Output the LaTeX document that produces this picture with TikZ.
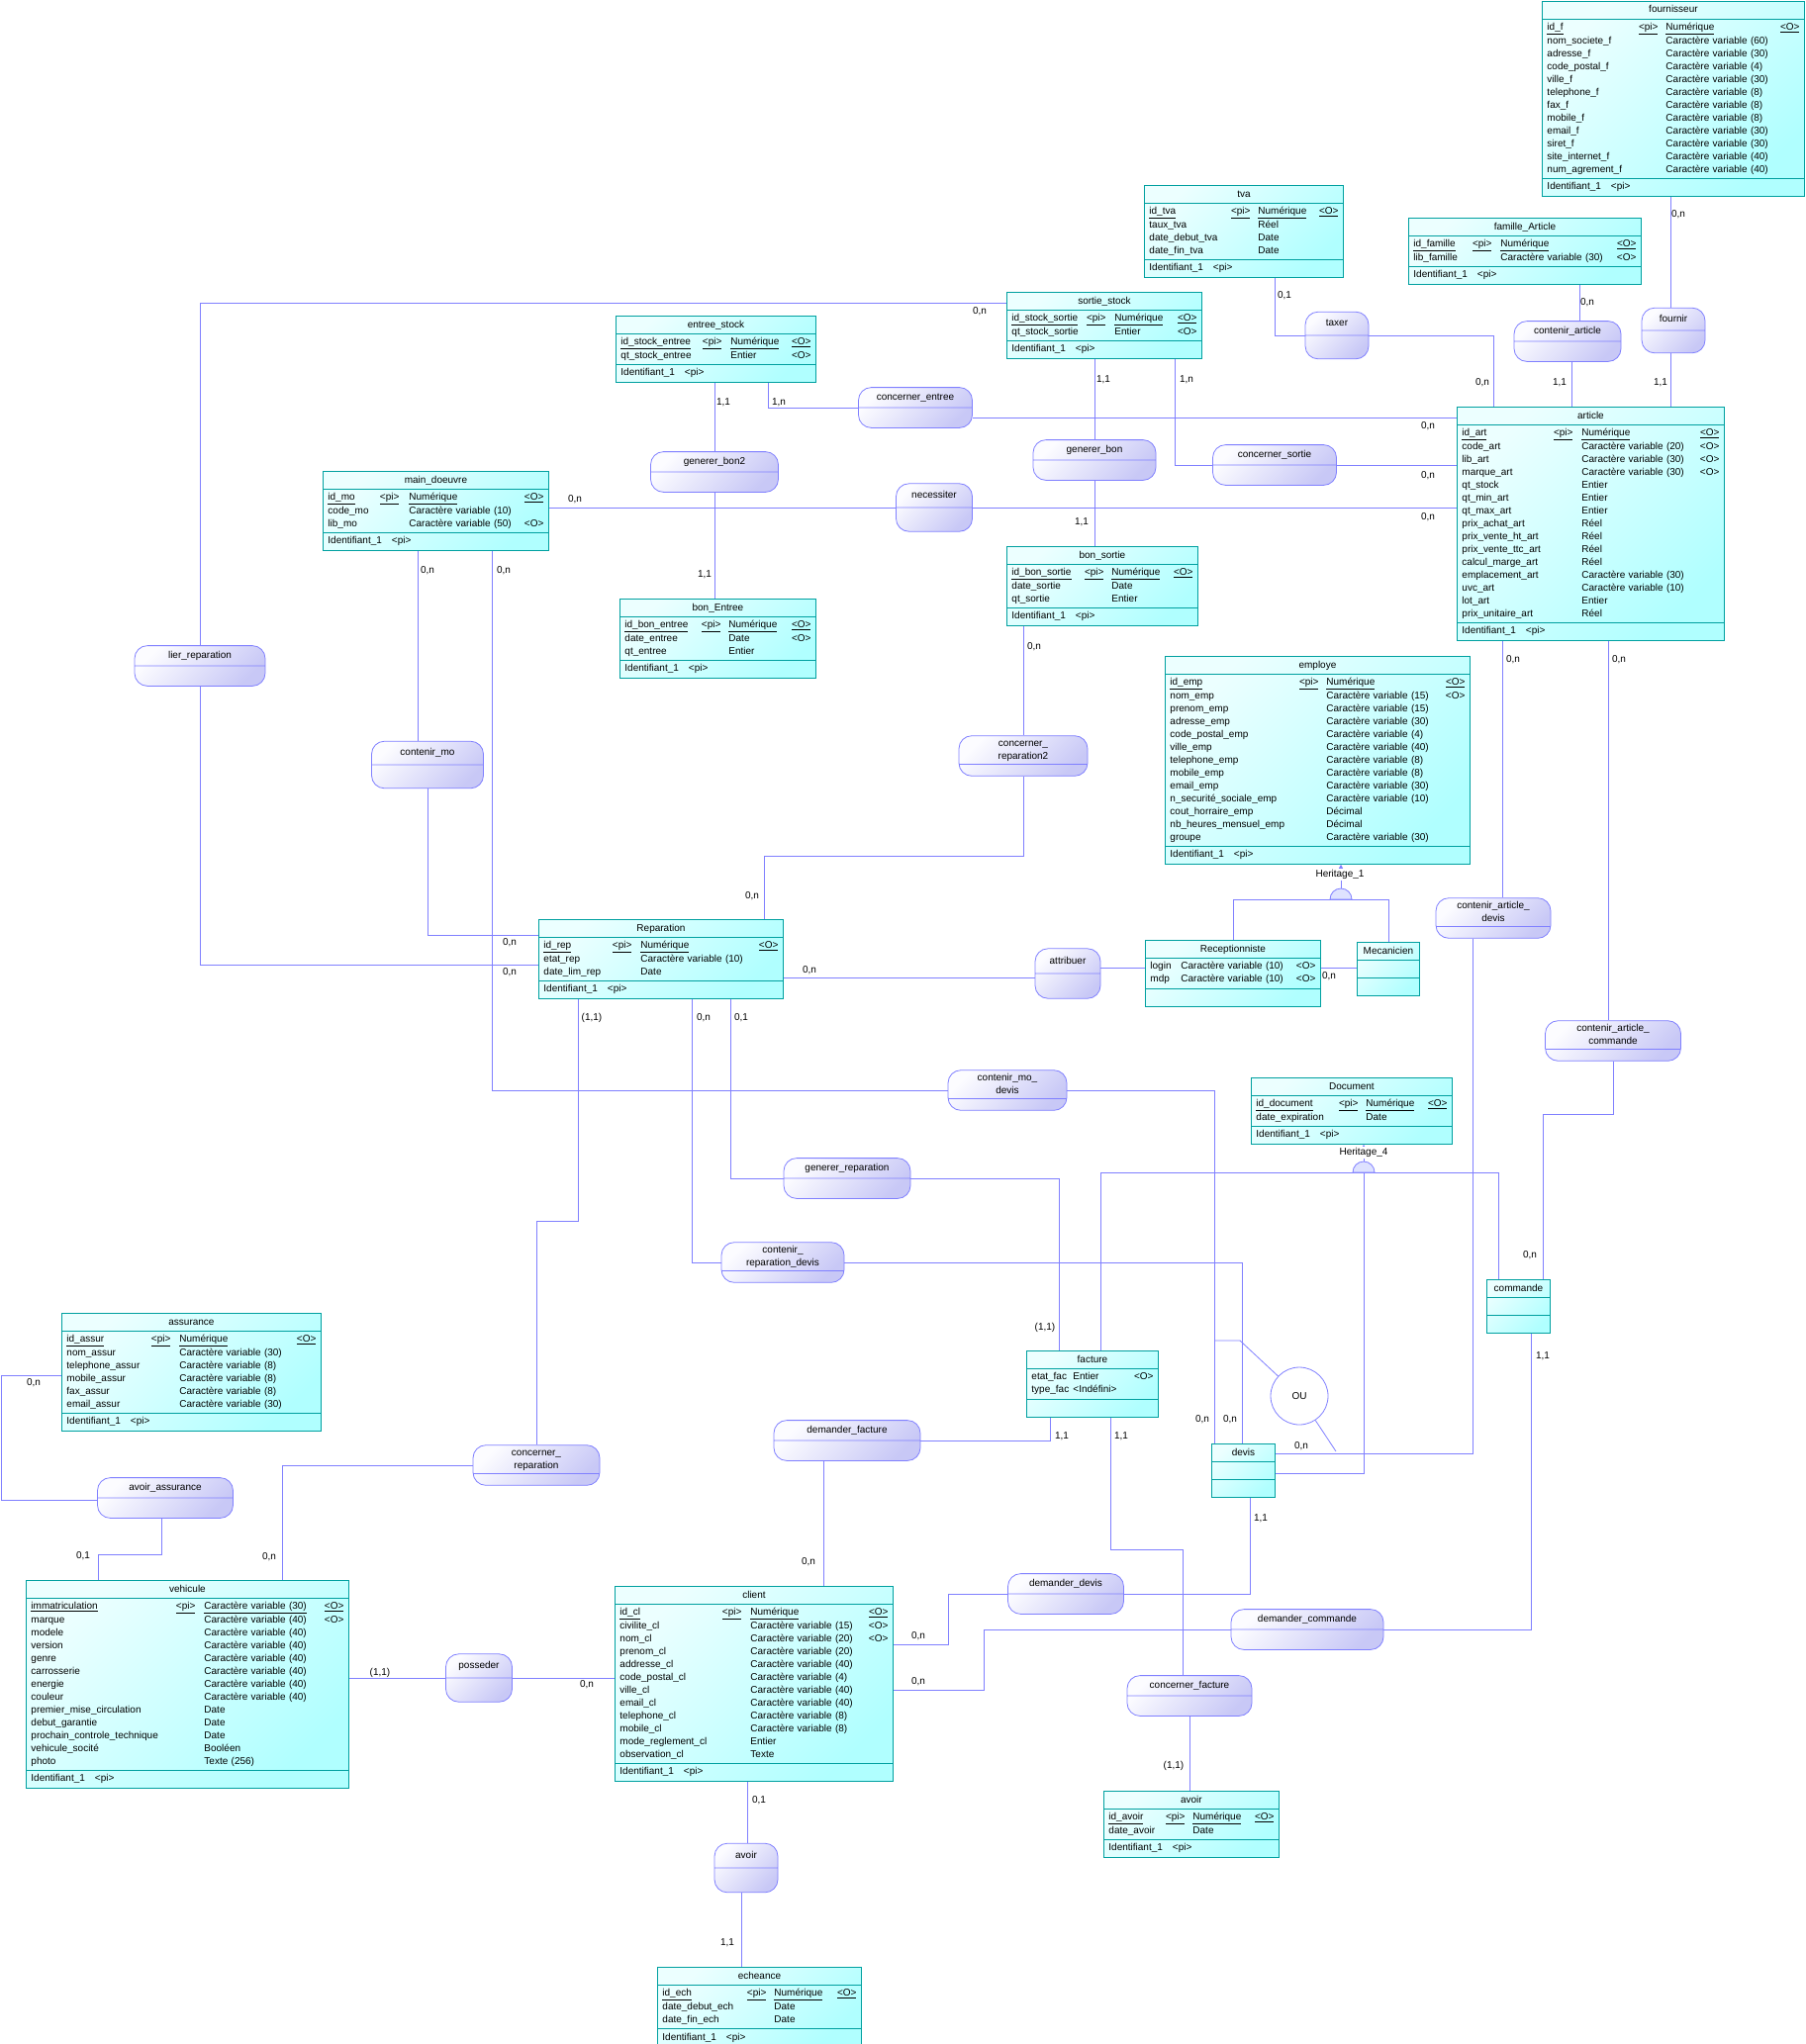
\documentclass[tikz,border=0pt]{standalone}
\usepackage{fontspec}
\setmainfont{Liberation Sans}
\usetikzlibrary{shapes.multipart,arrows.meta}
\definecolor{entline}{RGB}{0,160,160}
\definecolor{entlight}{RGB}{236,255,255}
\definecolor{entdark}{RGB}{176,255,255}
\definecolor{lnk}{RGB}{128,128,255}
\definecolor{asslight}{RGB}{252,252,255}
\definecolor{assdark}{RGB}{200,200,246}
\definecolor{domefill}{RGB}{222,226,255}
\newcommand{\erfont}{\fontsize{10}{13}\selectfont}
\newcommand{\cv}[1]{Caractère variable (#1)}
\newcommand{\pkrow}[2]{\underline{#1}\hfill\underline{<pi>} & \underline{#2}\hfill\underline{<O>}}
\newcommand{\ident}{\strut Identifiant\_1\quad<pi>\hfill\null}
\newenvironment{attrs}[3]{\begin{tabular}{@{}p{#1pt}@{\hspace{#2pt}}p{#3pt}@{}}}{\end{tabular}}

\begin{document}
\begin{tikzpicture}[x=1pt,y=-1pt,
  ent/.style={rectangle split, rectangle split parts=3, draw=entline, line width=0.9pt,
    top color=entlight, bottom color=entdark, shading angle=45, anchor=north west,
    inner xsep=5pt, inner ysep=2pt, align=center, font=\erfont},
  asso/.style={rectangle split, rectangle split parts=2, draw=lnk, line width=0.8pt,
    rounded corners=13pt, top color=asslight, bottom color=assdark, shading angle=45,
    inner ysep=3.3pt, align=center, font=\erfont},
  link/.style={draw=lnk, line width=0.8pt},
  card/.style={font=\erfont, inner sep=1pt}]
\path[use as bounding box, fill=white] (0,0) rectangle (1824,2066);

% entities
\node[ent, text width=255pt] (fou) at (1558,1) {\strut fournisseur
  \nodepart{two}\begin{attrs}{112}{8}{135}
    \pkrow{id\_f}{Numérique}\\
    nom\_societe\_f & \cv{60}\\
    adresse\_f & \cv{30}\\
    code\_postal\_f & \cv{4}\\
    ville\_f & \cv{30}\\
    telephone\_f & \cv{8}\\
    fax\_f & \cv{8}\\
    mobile\_f & \cv{8}\\
    email\_f & \cv{30}\\
    siret\_f & \cv{30}\\
    site\_internet\_f & \cv{40}\\
    num\_agrement\_f & \cv{40}
  \end{attrs}
  \nodepart{three}\ident};

\node[ent, text width=191pt] (tva) at (1156,187) {\strut tva
  \nodepart{two}\begin{attrs}{102}{8}{81}
    \pkrow{id\_tva}{Numérique}\\
    taux\_tva & Réel\\
    date\_debut\_tva & Date\\
    date\_fin\_tva & Date
  \end{attrs}
  \nodepart{three}\ident};

\node[ent, text width=225pt] (fam) at (1423,220) {\strut famille\_Article
  \nodepart{two}\begin{attrs}{79}{9}{137}
    \pkrow{id\_famille}{Numérique}\\
    lib\_famille & \cv{30}\hfill<O>
  \end{attrs}
  \nodepart{three}\ident};

\node[ent, text width=187pt] (sor) at (1017,295) {\strut sortie\_stock
  \nodepart{two}\begin{attrs}{95}{9}{83}
    \pkrow{id\_stock\_sortie}{Numérique}\\
    qt\_stock\_sortie & Entier\hfill<O>
  \end{attrs}
  \nodepart{three}\ident};

\node[ent, text width=192pt] (ent) at (622,319) {\strut entree\_stock
  \nodepart{two}\begin{attrs}{102}{9}{81}
    \pkrow{id\_stock\_entree}{Numérique}\\
    qt\_stock\_entree & Entier\hfill<O>
  \end{attrs}
  \nodepart{three}\ident};

\node[ent, text width=218pt] (mo) at (326,476) {\strut main\_doeuvre
  \nodepart{two}\begin{attrs}{72}{10}{136}
    \pkrow{id\_mo}{Numérique}\\
    code\_mo & \cv{10}\\
    lib\_mo & \cv{50}\hfill<O>
  \end{attrs}
  \nodepart{three}\ident};

\node[ent, text width=260pt] (art) at (1472,411) {\strut article
  \nodepart{two}\begin{attrs}{112}{9}{139}
    \pkrow{id\_art}{Numérique}\\
    code\_art & \cv{20}\hfill<O>\\
    lib\_art & \cv{30}\hfill<O>\\
    marque\_art & \cv{30}\hfill<O>\\
    qt\_stock & Entier\\
    qt\_min\_art & Entier\\
    qt\_max\_art & Entier\\
    prix\_achat\_art & Réel\\
    prix\_vente\_ht\_art & Réel\\
    prix\_vente\_ttc\_art & Réel\\
    calcul\_marge\_art & Réel\\
    emplacement\_art & \cv{30}\\
    uvc\_art & \cv{10}\\
    lot\_art & Entier\\
    prix\_unitaire\_art & Réel
  \end{attrs}
  \nodepart{three}\ident};

\node[ent, text width=183pt] (bs) at (1017,552) {\strut bon\_sortie
  \nodepart{two}\begin{attrs}{93}{8}{82}
    \pkrow{id\_bon\_sortie}{Numérique}\\
    date\_sortie & Date\\
    qt\_sortie & Entier
  \end{attrs}
  \nodepart{three}\ident};

\node[ent, text width=188pt] (be) at (626,605) {\strut bon\_Entree
  \nodepart{two}\begin{attrs}{97}{8}{83}
    \pkrow{id\_bon\_entree}{Numérique}\\
    date\_entree & Date\hfill<O>\\
    qt\_entree & Entier
  \end{attrs}
  \nodepart{three}\ident};

\node[ent, text width=298pt] (emp) at (1177,663) {\strut employe
  \nodepart{two}\begin{attrs}{150}{8}{140}
    \pkrow{id\_emp}{Numérique}\\
    nom\_emp & \cv{15}\hfill<O>\\
    prenom\_emp & \cv{15}\\
    adresse\_emp & \cv{30}\\
    code\_postal\_emp & \cv{4}\\
    ville\_emp & \cv{40}\\
    telephone\_emp & \cv{8}\\
    mobile\_emp & \cv{8}\\
    email\_emp & \cv{30}\\
    n\_securité\_sociale\_emp & \cv{10}\\
    cout\_horraire\_emp & Décimal\\
    nb\_heures\_mensuel\_emp & Décimal\\
    groupe & \cv{30}
  \end{attrs}
  \nodepart{three}\ident};

\node[ent, text width=237pt] (rep) at (544,929) {\strut Reparation
  \nodepart{two}\begin{attrs}{89}{9}{139}
    \pkrow{id\_rep}{Numérique}\\
    etat\_rep & \cv{10}\\
    date\_lim\_rep & Date
  \end{attrs}
  \nodepart{three}\ident};

\node[ent, text width=167pt] (rec) at (1157,950) {\strut Receptionniste
  \nodepart{two}\begin{attrs}{27}{4}{136}
    login & \cv{10}\hfill<O>\\
    mdp & \cv{10}\hfill<O>
  \end{attrs}
  \nodepart{three}\strut};

\node[ent, text width=53pt] (mec) at (1371,952) {\strut Mecanicien
  \nodepart{two}\strut\nodepart{three}\strut};

\node[ent, text width=193pt] (doc) at (1264,1089) {\strut Document
  \nodepart{two}\begin{attrs}{103}{8}{82}
    \pkrow{id\_document}{Numérique}\\
    date\_expiration & Date
  \end{attrs}
  \nodepart{three}\ident};

\node[ent, text width=54pt] (cmd) at (1502,1293) {\strut commande
  \nodepart{two}\strut\nodepart{three}\strut};

\node[ent, text width=123pt] (fac) at (1037,1365) {\strut facture
  \nodepart{two}\begin{attrs}{38}{4}{81}
    etat\_fac & Entier\hfill<O>\\
    type\_fac & <Indéfini>
  \end{attrs}
  \nodepart{three}\strut};

\node[ent, text width=54pt] (dev) at (1224,1459) {\strut devis
  \nodepart{two}\strut\nodepart{three}\strut};

\node[ent, text width=252pt] (ass) at (62,1327) {\strut assurance
  \nodepart{two}\begin{attrs}{105}{9}{138}
    \pkrow{id\_assur}{Numérique}\\
    nom\_assur & \cv{30}\\
    telephone\_assur & \cv{8}\\
    mobile\_assur & \cv{8}\\
    fax\_assur & \cv{8}\\
    email\_assur & \cv{30}
  \end{attrs}
  \nodepart{three}\ident};

\node[ent, text width=316pt] (veh) at (26,1597) {\strut vehicule
  \nodepart{two}\begin{attrs}{166}{9}{141}
    \pkrow{immatriculation}{\cv{30}}\\
    marque & \cv{40}\hfill<O>\\
    modele & \cv{40}\\
    version & \cv{40}\\
    genre & \cv{40}\\
    carrosserie & \cv{40}\\
    energie & \cv{40}\\
    couleur & \cv{40}\\
    premier\_mise\_circulation & Date\\
    debut\_garantie & Date\\
    prochain\_controle\_technique & Date\\
    vehicule\_socité & Booléen\\
    photo & Texte (256)
  \end{attrs}
  \nodepart{three}\ident};

\node[ent, text width=271pt] (cli) at (621,1603) {\strut client
  \nodepart{two}\begin{attrs}{123}{9}{139}
    \pkrow{id\_cl}{Numérique}\\
    civilite\_cl & \cv{15}\hfill<O>\\
    nom\_cl & \cv{20}\hfill<O>\\
    prenom\_cl & \cv{20}\\
    addresse\_cl & \cv{40}\\
    code\_postal\_cl & \cv{4}\\
    ville\_cl & \cv{40}\\
    email\_cl & \cv{40}\\
    telephone\_cl & \cv{8}\\
    mobile\_cl & \cv{8}\\
    mode\_reglement\_cl & Entier\\
    observation\_cl & Texte
  \end{attrs}
  \nodepart{three}\ident};

\node[ent, text width=167pt] (avo) at (1115,1810) {\strut avoir
  \nodepart{two}\begin{attrs}{77}{8}{82}
    \pkrow{id\_avoir}{Numérique}\\
    date\_avoir & Date
  \end{attrs}
  \nodepart{three}\ident};

\node[ent, text width=196pt] (ech) at (664,1988) {\strut echeance
  \nodepart{two}\begin{attrs}{105}{8}{83}
    \pkrow{id\_ech}{Numérique}\\
    date\_debut\_ech & Date\\
    date\_fin\_ech & Date
  \end{attrs}
  \nodepart{three}\ident};

% associations
\node[asso, minimum width=64pt, inner ysep=4.5pt] (fournir) at (1691,334) {\strut fournir\nodepart{two}\strut};
\node[asso, minimum width=108pt] (ca) at (1584,345) {\strut contenir\_article\nodepart{two}\strut};
\node[asso, minimum width=64pt, inner ysep=5pt] (taxer) at (1351,339) {\strut taxer\nodepart{two}\strut};
\node[asso, minimum width=115pt] (ce) at (925,412) {\strut concerner\_entree\nodepart{two}\strut};
\node[asso, minimum width=129pt] (gb2) at (722,477) {\strut generer\_bon2\nodepart{two}\strut};
\node[asso, minimum width=124pt] (gb) at (1106,465) {\strut generer\_bon\nodepart{two}\strut};
\node[asso, minimum width=125pt] (cs) at (1288,470) {\strut concerner\_sortie\nodepart{two}\strut};
\node[asso, minimum width=77pt, inner ysep=5.2pt] (nec) at (944,513) {\strut necessiter\nodepart{two}\strut};
\node[asso, minimum width=132pt] (lier) at (202,673) {\strut lier\_reparation\nodepart{two}\strut};
\node[asso, minimum width=113pt, inner ysep=5pt] (cm) at (432,773) {\strut contenir\_mo\nodepart{two}\strut};
\node[asso, minimum width=130pt, inner ysep=1pt] (cr2) at (1034,764) {\strut concerner\_\\\strut reparation2\nodepart{two}\rule{0pt}{9pt}};
\node[asso, minimum width=66pt, inner ysep=5.7pt] (attr) at (1079,984) {\strut attribuer\nodepart{two}\strut};
\node[asso, minimum width=116pt, inner ysep=1pt] (cad) at (1509,928) {\strut contenir\_article\_\\\strut devis\nodepart{two}\rule{0pt}{9pt}};
\node[asso, minimum width=137pt, inner ysep=1pt] (cac) at (1630,1052) {\strut contenir\_article\_\\\strut commande\nodepart{two}\rule{0pt}{9pt}};
\node[asso, minimum width=120pt, inner ysep=1pt] (cmdv) at (1018,1102) {\strut contenir\_mo\_\\\strut devis\nodepart{two}\rule{0pt}{9pt}};
\node[asso, minimum width=128pt] (gr) at (856,1191) {\strut generer\_reparation\nodepart{two}\strut};
\node[asso, minimum width=124pt, inner ysep=1pt] (crd) at (791,1276) {\strut contenir\_\\\strut reparation\_devis\nodepart{two}\rule{0pt}{9pt}};
\node[asso, minimum width=148pt] (df) at (856,1456) {\strut demander\_facture\nodepart{two}\strut};
\node[asso, minimum width=128pt, inner ysep=1pt] (crp) at (542,1481) {\strut concerner\_\\\strut reparation\nodepart{two}\rule{0pt}{9pt}};
\node[asso, minimum width=137pt] (aa) at (167,1514) {\strut avoir\_assurance\nodepart{two}\strut};
\node[asso, minimum width=117pt] (dd) at (1077,1611) {\strut demander\_devis\nodepart{two}\strut};
\node[asso, minimum width=154pt] (dco) at (1321,1647) {\strut demander\_commande\nodepart{two}\strut};
\node[asso, minimum width=67pt, inner ysep=5.2pt] (pos) at (484,1696) {\strut posseder\nodepart{two}\strut};
\node[asso, minimum width=126pt] (cf) at (1202,1714) {\strut concerner\_facture\nodepart{two}\strut};
\node[asso, minimum width=64pt, inner ysep=5.5pt] (av) at (754,1888) {\strut avoir\nodepart{two}\strut};

% links
\draw[link] (fou.south -| 1688,0) -- (fournir.north -| 1688,0);
\draw[link] (fournir.south -| 1688,0) -- (art.north -| 1688,0);
\draw[link] (fam.south -| 1596,0) -- (ca.north -| 1596,0);
\draw[link] (ca.south -| 1588,0) -- (art.north -| 1588,0);
\draw[link] (tva.south -| 1288,0) |- (taxer);
\draw[link] (taxer) -| (art.north -| 1509,0);
\draw[link] (sor.west |- 0,306) -| (lier);
\draw[link] (lier) |- (rep.west |- 0,975);
\draw[link] (ent.south -| gb2) -- (gb2);
\draw[link] (gb2) -- (be.north -| gb2);
\draw[link] (ent.south -| 776,0) |- (ce);
\draw[link] (ce.east |- 0,422) -- (art.west |- 0,422);
\draw[link] (sor.south -| gb) -- (gb);
\draw[link] (gb) -- (bs.north -| gb);
\draw[link] (sor.south -| 1187,0) |- (cs);
\draw[link] (cs) -- (art.west |- cs);
\draw[link] (mo.east |- nec) -- (nec);
\draw[link] (nec) -- (art.west |- nec);
\draw[link] (mo.south -| 422,0) -- (cm.north -| 422,0);
\draw[link] (cm.south -| 432,0) |- (rep.west |- 0,945);
\draw[link] (mo.south -| 497,0) |- (cmdv);
\draw[link] (cmdv) -| (dev.north -| 1227,0);
\draw[link] (bs.south -| cr2) -- (cr2);
\draw[link] (cr2) |- (772,865) -- (rep.north -| 772,0);
\draw[link] (rep.east |- 0,988) -- (attr.west |- 0,988);
\draw[link] (attr.east |- 0,978) -- (rec.west |- 0,978);
\draw[link] (rec.east |- 0,978) -- (mec.west |- 0,978);
\draw[link] (rep.south -| 584,0) |- (542,1234) -- (crp);
\draw[link] (crp) -| (veh.north -| 285,0);
\draw[link] (rep.south -| 699,0) |- (crd);
\draw[link] (crd) -| (dev.north -| 1255,0);
\draw[link] (rep.south -| 738,0) |- (gr);
\draw[link] (gr) -| (fac.north -| 1070,0);
\draw[link] (art.south -| 1518,0) -- (cad.north -| 1518,0);
\draw[link] (cad.south -| 1488,0) |- (dev.east |- 0,1469);
\draw[link] (art.south -| 1625,0) -- (cac.north -| 1625,0);
\draw[link] (cac.south -| 1630,0) |- (1559,1126) -- (cmd.north -| 1559,0);
\draw[link] (cmd.south -| 1547,0) |- (dco);
\draw[link] (dco) -| (994,1708) -- (cli.east |- 0,1708);
\draw[link] (dev.south -| 1263,0) |- (dd);
\draw[link] (dd) -| (958,1662) -- (cli.east |- 0,1662);
\draw[link] (fac.south -| 1061,0) |- (df);
\draw[link] (df.south -| 832,0) -- (cli.north -| 832,0);
\draw[link] (fac.south -| 1122,0) |- (1195,1566) -- (cf.north -| 1195,0);
\draw[link] (cf) -- (avo.north -| cf);
\draw[link] (cli.south -| 755,0) -- (av.north -| 755,0);
\draw[link] (av.south -| 749,0) -- (ech.north -| 749,0);
\draw[link] (cli.west |- pos) -- (pos);
\draw[link] (pos) -- (veh.east |- pos);
\draw[link] (veh.north -| 99,0) |- (163,1571) -- (aa.south -| 163,0);
\draw[link] (aa.west |- 0,1516) -| (1,1390) -- (ass.west |- 0,1390);

% inheritance
\coordinate (h1) at (1355,909);
\draw[link] (rec.north) |- (h1) -| (mec.north);
\draw[link, -{Triangle[length=5pt,width=5pt]}] ([yshift=11pt]h1) -- (emp.south -| h1);
\draw[link, fill=domefill] ([xshift=11pt]h1) arc[start angle=0, end angle=180, radius=11pt] -- cycle;
\node[card, fill=white] (lh1) at (1354,884) {Heritage\_1};

\coordinate (h4) at (1378,1185);
\draw[link] (fac.north -| 1112,0) |- (h4) -| (cmd.north -| 1514,0);
\draw[link] (h4) |- (dev.east |- 0,1489);
\draw[link, -{Triangle[length=5pt,width=5pt]}] ([yshift=11pt]h4) -- (doc.south -| h4);
\draw[link, fill=domefill] ([xshift=11pt]h4) arc[start angle=0, end angle=180, radius=11pt] -- cycle;
\node[card, fill=white] (lh4) at (1378,1165) {Heritage\_4};

% constraint
\node[circle, draw=lnk, line width=0.8pt, fill=white, minimum size=58pt, font=\erfont] (ou) at (1313,1411) {OU};
\draw[link] (1228,1355) -- (1253,1355) -- (ou);
\draw[link] (ou) -- (1350,1467);

% cardinalities
\node[card] (k1) at (1696,217) {0,n};
\node[card] (k2) at (1678,387) {1,1};
\node[card] (k3) at (1604,306) {0,n};
\node[card] (k4) at (1576,387) {1,1};
\node[card] (k5) at (1298,299) {0,1};
\node[card] (k6) at (1498,387) {0,n};
\node[card] (k7) at (990,315) {0,n};
\node[card] (k8) at (515,983) {0,n};
\node[card] (k9) at (731,407) {1,1};
\node[card] (k10) at (712,581) {1,1};
\node[card] (k11) at (787,407) {1,n};
\node[card] (k12) at (1443,431) {0,n};
\node[card] (k13) at (1115,384) {1,1};
\node[card] (k14) at (1093,528) {1,1};
\node[card] (k15) at (1199,384) {1,n};
\node[card] (k16) at (1443,481) {0,n};
\node[card] (k17) at (581,505) {0,n};
\node[card] (k18) at (1443,523) {0,n};
\node[card] (k19) at (432,577) {0,n};
\node[card] (k20) at (515,953) {0,n};
\node[card] (k21) at (509,577) {0,n};
\node[card] (k22) at (1215,1435) {0,n};
\node[card] (k23) at (1045,654) {0,n};
\node[card] (k24) at (760,906) {0,n};
\node[card] (k25) at (818,981) {0,n};
\node[card] (k26) at (1343,987) {0,n};
\node[card] (k27) at (598,1029) {(1,1)};
\node[card] (k28) at (272,1574) {0,n};
\node[card] (k29) at (711,1029) {0,n};
\node[card] (k30) at (1243,1435) {0,n};
\node[card] (k31) at (749,1029) {0,1};
\node[card] (k32) at (1056,1342) {(1,1)};
\node[card] (k33) at (1529,667) {0,n};
\node[card] (k34) at (1315,1462) {0,n};
\node[card] (k35) at (1636,667) {0,n};
\node[card] (k36) at (1546,1269) {0,n};
\node[card] (k37) at (1559,1371) {1,1};
\node[card] (k38) at (928,1700) {0,n};
\node[card] (k39) at (1274,1535) {1,1};
\node[card] (k40) at (928,1654) {0,n};
\node[card] (k41) at (1073,1452) {1,1};
\node[card] (k42) at (817,1579) {0,n};
\node[card] (k43) at (1133,1452) {1,1};
\node[card] (k44) at (1186,1785) {(1,1)};
\node[card] (k45) at (767,1820) {0,1};
\node[card] (k46) at (735,1964) {1,1};
\node[card] (k47) at (593,1703) {0,n};
\node[card] (k48) at (384,1691) {(1,1)};
\node[card] (k49) at (84,1573) {0,1};
\node[card] (k50) at (34,1398) {0,n};
\end{tikzpicture}
\end{document}
